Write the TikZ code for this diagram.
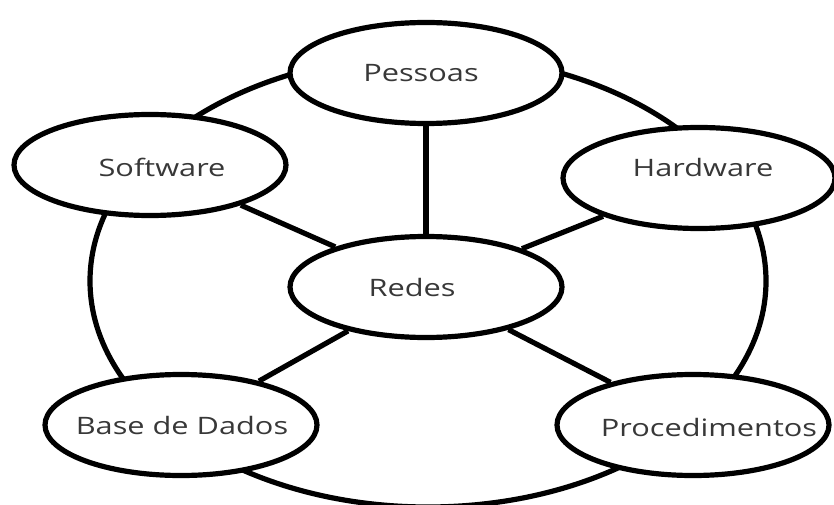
\documentclass[tikz,border=0pt]{standalone}
\usepackage{fontspec}
\setmainfont{Open Sans}[FakeStretch=1.28]
\usetikzlibrary{shapes.geometric,backgrounds}
\definecolor{labelgray}{HTML}{383838}
\begin{document}
\begin{tikzpicture}[x=1pt,y=-1pt,
  bubble/.style={ellipse, draw=black, line width=5.2pt, fill=white, inner sep=0pt,
                 minimum width=272pt, minimum height=101pt},
  caption/.style={text=labelgray, font=\fontsize{24}{28}\selectfont, inner sep=0pt},
  link/.style={draw=black, line width=5.2pt}]
\useasboundingbox (0,0) rectangle (834,505);

% component bubbles
\node[bubble] (pessoas)       at (426,73)  {};
\node[bubble] (software)      at (150,165) {};
\node[bubble] (hardware)      at (699,178) {};
\node[bubble] (redes)         at (426,287) {};
\node[bubble] (basedados)     at (181,425) {};
\node[bubble] (procedimentos) at (693,425) {};

% bubble captions
\node[caption] (pessoasT)       at (421,73)  {Pessoas};
\node[caption] (softwareT)      at (162,167) {Software};
\node[caption] (hardwareT)      at (703,167) {Hardware};
\node[caption] (redesT)         at (412,287) {Redes};
\node[caption] (basedadosT)     at (182,425) {Base de Dados};
\node[caption] (procedimentosT) at (709,427) {Procedimentos};

\begin{scope}[on background layer]
  % outer ring through the five outer bubbles
  \draw[link] (428,281) ellipse [x radius=338, y radius=226];
  % spokes from the hub
  \foreach \n in {pessoas,software,hardware,basedados,procedimentos}
    \draw[link] (redes) -- (\n);
\end{scope}
\end{tikzpicture}
\end{document}
